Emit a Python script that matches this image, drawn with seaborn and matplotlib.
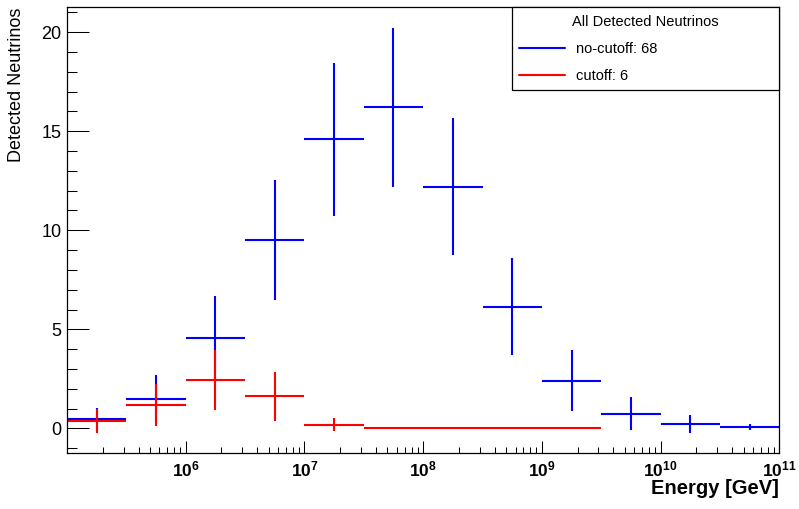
import numpy as np
import pandas as pd
import seaborn as sns
import matplotlib.pyplot as plt
from matplotlib.lines import Line2D
from matplotlib.ticker import LogLocator, FixedLocator, MultipleLocator, NullFormatter

# half-decade energy bins, 1e5 .. 1e11 GeV
log_edges = [5.0, 5.5, 6.0, 6.5, 7.0, 7.5, 8.0, 8.5, 9.0, 9.5, 10.0, 10.5, 11.0]

# no-cutoff histogram (sum ~ 68)
nocut_vals = [0.45, 1.50, 4.56, 9.50, 14.60, 16.20, 12.20, 6.14, 2.41, 0.74, 0.23, 0.07]
nocut_errs = [0.57, 1.19, 2.10, 3.04, 3.87, 4.00, 3.47, 2.46, 1.53, 0.83, 0.45, 0.13]

# cutoff histogram (sum ~ 6), filled up to 10^9.5
cut_vals = [0.38, 1.19, 2.45, 1.62, 0.18, 0.0, 0.0, 0.0, 0.0]
cut_errs = [0.60, 1.07, 1.53, 1.25, 0.33, 0.0, 0.0, 0.0, 0.0]

legend_title = "All Detected Neutrinos"
labels = ["no-cutoff: 68", "cutoff: 6"]
colors = ["#0000ff", "#ff0000"]


def make_df(vals, errs):
    lo = np.power(10.0, log_edges[:len(vals)])
    hi = np.power(10.0, log_edges[1:len(vals) + 1])
    center = np.sqrt(lo * hi)
    return pd.DataFrame({"lo": lo, "hi": hi, "x": center, "y": vals, "err": errs})


sns.set_theme(style="ticks")
plt.rcParams["font.family"] = ["Liberation Sans", "DejaVu Sans"]
plt.rcParams["mathtext.fontset"] = "custom"
plt.rcParams["mathtext.rm"] = "Liberation Sans"
plt.rcParams["mathtext.bf"] = "Liberation Sans:bold"
for k in ["text.color", "axes.labelcolor", "xtick.color", "ytick.color", "axes.edgecolor"]:
    plt.rcParams[k] = "black"

fig = plt.figure(figsize=(7.99, 5.09), dpi=100)
ax = fig.add_axes([0.0839, 0.1106, 0.8914, 0.8751])

for (vals, errs), col in zip([(nocut_vals, nocut_errs), (cut_vals, cut_errs)], colors):
    d = make_df(vals, errs)
    ax.errorbar(d["x"], d["y"], xerr=[d["x"] - d["lo"], d["hi"] - d["x"]],
                yerr=d["err"], fmt="none", ecolor=col, elinewidth=1.5, capsize=0)

ax.set_xscale("log")
ax.set_xlim(1e5, 1e11)
ax.set_ylim(-1.23, 21.26)

ax.xaxis.set_major_locator(FixedLocator([1e6, 1e7, 1e8, 1e9, 1e10, 1e11]))
ax.set_xticklabels([r"$\mathbf{10^{%d}}$" % e for e in range(6, 12)], fontsize=12.5)
ax.xaxis.set_minor_locator(LogLocator(base=10, subs=np.arange(2, 10), numticks=20))
ax.xaxis.set_minor_formatter(NullFormatter())
ax.yaxis.set_major_locator(MultipleLocator(5))
ax.yaxis.set_minor_locator(MultipleLocator(1))
ax.tick_params(axis="y", which="major", direction="in", length=15.6, width=0.75,
               labelsize=13, pad=4)
ax.tick_params(axis="y", which="minor", direction="in", length=7.4, width=0.75)
ax.tick_params(axis="x", which="major", direction="in", length=9, width=0.75, pad=5)
ax.tick_params(axis="x", which="minor", direction="in", length=4.3, width=0.75)
for s in ax.spines.values():
    s.set_visible(True)
    s.set_linewidth(0.9)
    s.set_color("black")

ax.set_ylabel("Detected Neutrinos", fontsize=13, loc="top")
ax.yaxis.set_label_coords(-0.059, 1.0)
ax.set_xlabel("Energy [GeV]", fontsize=14.5, fontweight="bold", loc="right")
ax.xaxis.set_label_coords(1.0, -0.058)

handles = [Line2D([], [], color=c, lw=1.5) for c in colors]
leg = ax.legend(handles, labels, title=legend_title, loc="upper right",
                bbox_to_anchor=(0.625, 0.812, 0.375, 0.188), mode="expand",
                borderaxespad=0, fancybox=False, framealpha=1, edgecolor="black",
                fontsize=10.5, title_fontsize=10.5, handlelength=3.15,
                handletextpad=0.75, labelspacing=0.9, borderpad=0.5)
leg.get_frame().set_linewidth(0.9)

plt.savefig("out.png", dpi=100)
